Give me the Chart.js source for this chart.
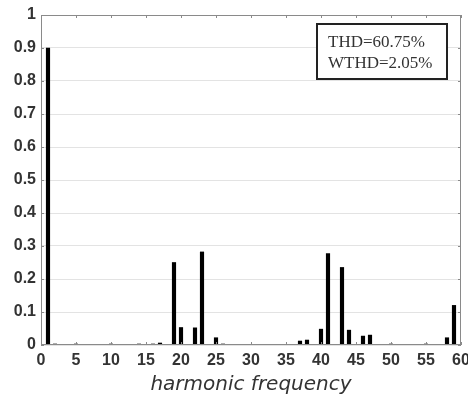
<!DOCTYPE html>
<html lang="en">
<head>
    <meta charset="UTF-8">
    <title>Harmonic spectrum</title>
    <script src="https://cdn.jsdelivr.net/npm/chart.js@4.4.0/dist/chart.umd.min.js"></script>
    <style>
        body { margin: 0; background: #fff; }
        #wrap { width: 468px; height: 397px; }
    </style>
</head>
<body>
<div id="wrap"><canvas id="myChart" width="468" height="397"></canvas></div>
<script>
// harmonic order and its magnitude
const harmonics = [];
for (let h = 1; h <= 60; h++) harmonics.push(h);
const magnitudes = [
    0.9, 0.003, 0, 0.002, 0.003, 0, 0.002, 0.002, 0, 0.003,
    0, 0.002, 0.002, 0.003, 0, 0.003, 0.006, 0, 0.25, 0.053,
    0, 0.052, 0.282, 0, 0.022, 0.003, 0, 0.002, 0, 0.002,
    0.002, 0.002, 0, 0.002, 0, 0.002, 0.012, 0.015, 0, 0.048,
    0.277, 0, 0.235, 0.045, 0, 0.027, 0.03, 0, 0.002, 0.003,
    0, 0.002, 0.002, 0, 0.003, 0.002, 0, 0.022, 0.12, 0
];
const xTicks = [0, 5, 10, 15, 20, 25, 30, 35, 40, 45, 50, 55, 60];
const yTicks = [0, 0.1, 0.2, 0.3, 0.4, 0.5, 0.6, 0.7, 0.8, 0.9, 1];
const boxLines = ['THD=60.75%', 'WTHD=2.05%'];

const points = harmonics.map((h, i) => ({ x: h, y: magnitudes[i] }));

// frame, inward ticks and the THD text box
const framePlugin = {
    id: 'frame',
    afterDraw(chart) {
        const { ctx, chartArea: a, scales: { x, y } } = chart;
        ctx.save();
        ctx.strokeStyle = '#8a8a8a';
        ctx.lineWidth = 1;
        ctx.strokeRect(a.left + 0.5, a.top + 0.5, a.right - a.left - 1, a.bottom - a.top - 1);
        ctx.beginPath();
        xTicks.forEach(v => {
            const px = Math.round(x.getPixelForValue(v)) + 0.5;
            ctx.moveTo(px, a.top); ctx.lineTo(px, a.top + 3);
            ctx.moveTo(px, a.bottom); ctx.lineTo(px, a.bottom - 3);
        });
        yTicks.forEach(v => {
            const py = Math.round(y.getPixelForValue(v)) + 0.5;
            ctx.moveTo(a.right, py); ctx.lineTo(a.right - 3, py);
            ctx.moveTo(a.left, py); ctx.lineTo(a.left + 3, py);
        });
        ctx.stroke();

        // text box, top right
        const bx = a.right - 144, by = a.top + 9, bw = 130, bh = 55;
        ctx.fillStyle = '#fff';
        ctx.fillRect(bx, by, bw, bh);
        ctx.strokeStyle = '#222';
        ctx.lineWidth = 2;
        ctx.strokeRect(bx, by, bw, bh);
        ctx.fillStyle = '#333';
        ctx.font = '17px "Liberation Serif", "Times New Roman", serif';
        ctx.textBaseline = 'alphabetic';
        ctx.fillText(boxLines[0], bx + 11, by + 23);
        ctx.fillText(boxLines[1], bx + 11, by + 44);
        ctx.restore();
    }
};

const ctx = document.getElementById('myChart').getContext('2d');
const myChart = new Chart(ctx, {
    type: 'bar',
    data: {
        datasets: [{
            data: points,
            backgroundColor: '#000',
            borderWidth: 0,
            barThickness: 3.5
        }]
    },
    options: {
        responsive: false,
        animation: false,
        layout: { padding: { top: 15, right: 7, left: 0, bottom: 0 } },
        plugins: { legend: { display: false }, tooltip: { enabled: false } },
        scales: {
            x: {
                type: 'linear',
                min: 0, max: 60,
                offset: false,
                grid: { display: false, offset: false, drawTicks: false },
                border: { display: false },
                afterBuildTicks: s => { s.ticks = xTicks.map(v => ({ value: v })); },
                afterFit: s => { s.height = 52; s.paddingLeft = 0; s.paddingRight = 0; },
                ticks: {
                    color: '#333',
                    font: { family: 'Liberation Sans, Arial, sans-serif', size: 16, weight: 'bold' },
                    padding: 6,
                    maxRotation: 0,
                    autoSkip: false
                },
                title: {
                    display: true,
                    text: 'harmonic frequency',
                    color: '#333',
                    font: { family: 'DejaVu Sans, sans-serif', size: 20, style: 'italic' },
                    padding: { top: 0, bottom: 0 }
                }
            },
            y: {
                min: 0, max: 1,
                grid: { color: '#e3e3e3', drawTicks: false },
                border: { display: false },
                afterBuildTicks: s => { s.ticks = yTicks.map(v => ({ value: v })); },
                afterFit: s => { s.width = 41; s.paddingTop = 0; s.paddingBottom = 0; },
                ticks: {
                    color: '#333',
                    font: { family: 'Liberation Sans, Arial, sans-serif', size: 16, weight: 'bold' },
                    padding: 5,
                    callback: v => String(v)
                }
            }
        }
    },
    plugins: [framePlugin]
});
</script>
</body>
</html>
